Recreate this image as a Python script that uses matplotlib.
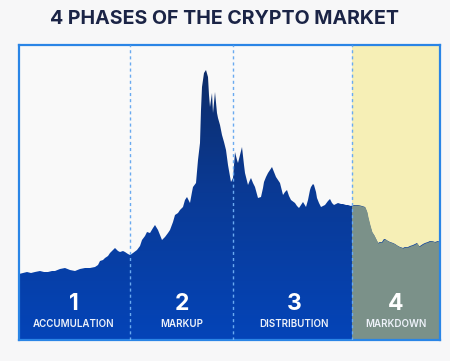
import numpy as np
import matplotlib
matplotlib.use("Agg")
import matplotlib.pyplot as plt
from matplotlib.patches import Rectangle, PathPatch
from matplotlib.colors import LinearSegmentedColormap

# ---- data (time index, price index) ----
pts = [(19,274),(23,273),(27,272),(31,273),(35,272),(40,271),(44,272),(48,272),(52,271),(55,271),
       (60,269),(65,268),(70,270),(75,271),(80,269),(85,268),(90,268),(95,267),(98,265),(100,261),
       (103,260),(105,258),(108,256),(110,253),(113,250),(115,248),(118,251),(120,252),(123,251),
       (125,252),(128,254),(130,255),(133,253),(137,250),(140,246),(142,240),(145,236),(147,232),
       (150,233),(153,228),(155,225),(158,230),(160,235),(162,240),(165,237),(168,233),(170,230),
       (173,222),(175,215),(178,213),(180,210),(183,207),(185,200),(187,197),(190,203),(192,192),
       (193,187),(196,183),(198,160),(200,143),(201,110),(202,87),(204,73),(206,70),(208,77),
       (209,95),(210,107),(212,93),(213,113),(215,92),(217,113),(218,118),(220,125),(222,135),
       (224,142),(226,150),(228,165),(231,182),(233,178),(235,152),(237,160),(238,163),(240,155),
       (242,147),(244,165),(245,173),(248,185),(250,180),(251,178),(253,183),(255,187),(258,198),
       (261,197),(263,188),(264,182),(266,177),(268,173),(270,170),(272,167),(274,172),(276,177),
       (278,180),(280,183),(283,195),(285,192),(287,190),(289,196),(291,200),(295,203),(297,206),
       (299,208),(301,205),(303,202),(306,207),(308,200),(310,190),(311,187),(313,184),(314,185),
       (316,192),(317,198),(319,203),(321,207),(323,206),(325,205),(328,201),(330,199),(332,203),
       (334,205),(336,204),(338,203),(341,204),(343,204),(346,205),(348,205),(351,206),(354,205),
       (358,205),(362,206),(365,207),(367,212),(368,217),(370,225),(372,232),(374,235),(375,237),
       (377,241),(378,243),(380,242),(382,242),(384,239),(385,239),(388,241),(390,242),(393,243),
       (395,244),(398,246),(400,247),(403,248),(405,247),(408,247),(410,246),(413,245),(415,244),
       (417,243),(419,246),(420,246),(423,244),(425,243),(428,242),(430,241),(432,241),(435,242),
       (438,241),(440,242)]
days = [p[0] - 19 for p in pts]
price = [340 - p[1] for p in pts]

phase_bounds = [111, 214, 333]          # days where phases change
phase_numbers = ["1", "2", "3", "4"]
phase_labels = ["ACCUMULATION", "MARKUP", "DISTRIBUTION", "MARKDOWN"]
phase_centers = [55, 163, 275, 377]
title = "4 PHASES OF THE CRYPTO MARKET"

# ---- figure ----
W, H = 450, 361
fig = plt.figure(figsize=(W/100, H/100), dpi=100, facecolor="#f7f7f8")
ax = fig.add_axes([19/W, 1-340/H, 421/W, 295/H])
ax.set_facecolor("#f9f9f9")
xmax = 421
ymax = 295
ax.set_xlim(0, xmax)
ax.set_ylim(0, ymax)
ax.set_xticks([]); ax.set_yticks([])
for s in ax.spines.values():
    s.set_color("#2a85e6"); s.set_linewidth(1.6)

x = np.array(days, float); y = np.array(price, float)

# markdown yellow background
ax.axvspan(phase_bounds[2], xmax, color="#f6efb6", zorder=0.5, lw=0)

# gradient fill
poly = ax.fill_between(x, 0, y, color="none", lw=0)
clip = PathPatch(poly.get_paths()[0], transform=ax.transData, facecolor="none", edgecolor="none")
ax.add_patch(clip)
cmap = LinearSegmentedColormap.from_list("g", ["#0444b8", "#0a3a95", "#0e2a60"])
grad = np.linspace(0, 1, 256).reshape(-1, 1)
im = ax.imshow(grad, extent=[0, xmax, 0, ymax], origin="lower", aspect="auto",
               cmap=cmap, vmin=0, vmax=1, zorder=1)
im.set_clip_path(clip)

# markdown portion of the area
gray = ax.fill_between(x, 0, y, color="#7b9189", lw=0, zorder=1.5)
gray.set_clip_path(Rectangle((phase_bounds[2], 0), xmax - phase_bounds[2], ymax, transform=ax.transData))

for b in phase_bounds:
    ax.axvline(b, color="#6aaaf0", lw=1, ls=(0, (2.2, 2.2)), zorder=3)

for c, n, lab in zip(phase_centers, phase_numbers, phase_labels):
    ax.text(c, 36, n, color="white", fontsize=16.5, fontweight="bold", family="Inter",
            ha="center", va="center", zorder=4)
    ax.text(c, 16, lab, color="#eef2fa", fontsize=7, fontweight="semibold", family="Inter",
            ha="center", va="center", zorder=4)

fig.text(0.5, 1-19.5/H, title, ha="center", va="center", color="#1b2446",
         fontsize=14.1, fontweight="bold", family="Inter")

fig.savefig("out.png", dpi=100, facecolor=fig.get_facecolor())
